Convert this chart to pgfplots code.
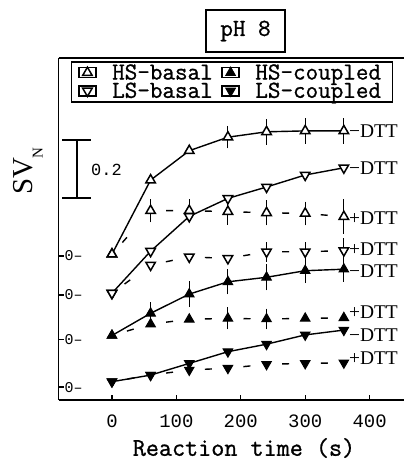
\documentclass[border=0pt]{standalone}
\usepackage{fontspec}
\usepackage{pgfplots}
\usepackage{pgfplotstable}
\pgfplotsset{compat=1.18}
\newfontfamily\serifLS{Liberation Serif}
\newfontfamily\lmono{Liberation Mono}
\newfontfamily\cour[FakeBold=1]{Latin Modern Mono}
\newcommand{\mono}[1]{\fontsize{#1}{#1}\selectfont\cour}
\newcommand{\digs}[1]{\fontsize{#1}{#1}\selectfont\lmono}

% values are SV_N relative to each series' own zero; columns:
% hb/hbd = HS-basal -DTT/+DTT, lb/lbd = LS-basal, hc/hcd = HS-coupled, lc/lcd = LS-coupled; *e = error
\pgfplotstableread{
t   hb    hbe   hbd   hbde  lb    lbd   lbde  hc    hce   hcd   hcde  lc    lcd
0   0.006 0     0.006 0     0.006 0.006 0     0.013 0     0.013 0     0.018 0.018
60  0.253 0     0.151 0.026 0.146 0.100 0     0.087 0.024 0.051 0     0.040 0.040
120 0.351 0     0.151 0.026 0.262 0.127 0     0.151 0.031 0.067 0     0.079 0.057
180 0.396 0.025 0.148 0.032 0.322 0.122 0     0.192 0.029 0.070 0.024 0.118 0.063
240 0.414 0.030 0.144 0.029 0.360 0.144 0.020 0.207 0.031 0.068 0.022 0.143 0.076
300 0.417 0.030 0.142 0.027 0.400 0.144 0.020 0.229 0.029 0.070 0     0.174 0.079
360 0.417 0.030 0.131 0.045 0.424 0.148 0.029 0.234 0.030 0.072 0     0.190 0.081
}\datamain

% +DTT series split into separate segments (dashes restart on each segment)
\pgfplotstableread{
t   hbd   lbd   hcd   lcd
0   0.006 0.006 0.013 0.018
60  0.151 0.100 0.051 0.040
nan nan   nan   nan   nan
60  0.151 0.100 0.051 0.040
120 0.151 0.127 0.067 0.057
nan nan   nan   nan   nan
120 0.151 0.127 0.067 0.057
180 0.148 0.122 0.070 0.063
nan nan   nan   nan   nan
180 0.148 0.122 0.070 0.063
240 0.144 0.144 0.068 0.076
nan nan   nan   nan   nan
240 0.144 0.144 0.068 0.076
300 0.142 0.144 0.070 0.079
nan nan   nan   nan   nan
300 0.142 0.144 0.070 0.079
360 0.131 0.148 0.072 0.081
}\datadash

\pgfplotsset{
  openup/.style={mark=triangle*, mark size=5.5pt, mark options={fill=white, draw=black, line width=1.5bp, solid}},
  opendown/.style={mark=triangle*, mark size=5.5pt, mark options={fill=white, draw=black, line width=1.5bp, rotate=180, solid}},
  fullup/.style={mark=triangle*, mark size=5.5pt, mark options={fill=black, draw=black, line width=1bp, solid}},
  fulldown/.style={mark=triangle*, mark size=5.5pt, mark options={fill=black, draw=black, line width=1bp, rotate=180, solid}},
  solidline/.style={no marks, black, line width=1.4bp, forget plot},
  dashline/.style={no marks, black, line width=1.4bp, forget plot, unbounded coords=jump, dash pattern=on 7bp off 31.6bp, dash phase=23bp},
  ebars/.style={only marks, mark=none, forget plot,
     error bars/y dir=both, error bars/y explicit,
     error bars/error bar style={black, line width=1.1bp, solid},
     error bars/error mark options={black, line width=1.1bp, mark size=3.8pt, solid}},
}
\tikzset{dttlab/.style={anchor=west, inner sep=0pt, xshift=5bp, font=\fontsize{19.5}{19.5}\selectfont\serifLS}}

\begin{document}
\begin{tikzpicture}
\begin{axis}[
  scale only axis, width=345.5bp, height=342bp,
  xmin=-83, xmax=453.4, ymin=0, ymax=1.14,
  axis x line=box, axis y line=left,
  axis line style={-, line width=1.9bp},
  xtick pos=bottom, ytick pos=left,
  tick align=inside, major tick length=5bp,
  tick style={line width=1.3bp, black},
  xtick={0,100,200,300,400},
  xticklabels={0,100,200,300,400},
  xticklabel style={font=\digs{19}, inner sep=0pt, anchor=north, yshift=-15bp},
  ytick={0.480,0.350,0.202,0.043},
  yticklabels={0\textendash,0\textendash,0\textendash,0\textendash},
  yticklabel style={anchor=west, font=\digs{15}, inner sep=0pt, xshift=6bp},
  clip=false,
  legend columns=2,
  legend cell align=left,
  legend image code/.code={\draw[#1] plot coordinates {(0bp,0bp)}; \path (-8.5bp,-5bp) rectangle (8.5bp,5bp);},
  legend style={at={(0.036,0.991)}, anchor=north west, draw=black, line width=1.5bp,
    inner xsep=6.5bp, inner ysep=2.5bp, font=\mono{24.5}, row sep=1.6bp,
    nodes={inner sep=0pt},
    /tikz/every odd column/.append style={column sep=15.5bp},
    /tikz/every even column/.append style={column sep=8.6bp}},
]
% connecting lines
\addplot[solidline] table[x=t, y expr=\thisrow{hb}+0.480] {\datamain};
\addplot[solidline] table[x=t, y expr=\thisrow{lb}+0.350] {\datamain};
\addplot[solidline] table[x=t, y expr=\thisrow{hc}+0.202] {\datamain};
\addplot[solidline] table[x=t, y expr=\thisrow{lc}+0.043] {\datamain};
\addplot[dashline] table[x=t, y expr=\thisrow{hbd}+0.480] {\datadash};
\addplot[dashline] table[x=t, y expr=\thisrow{lbd}+0.350] {\datadash};
\addplot[dashline] table[x=t, y expr=\thisrow{hcd}+0.202] {\datadash};
\addplot[dashline] table[x=t, y expr=\thisrow{lcd}+0.043] {\datadash};
% error bars
\addplot[restrict x to domain=170:400, ebars] table[x=t, y expr=\thisrow{hb}+0.480, y error=hbe] {\datamain};
\addplot[restrict x to domain=50:400, ebars] table[x=t, y expr=\thisrow{hbd}+0.480, y error=hbde] {\datamain};
\addplot[restrict x to domain=230:400, ebars] table[x=t, y expr=\thisrow{lbd}+0.350, y error=lbde] {\datamain};
\addplot[restrict x to domain=50:400, ebars] table[x=t, y expr=\thisrow{hc}+0.202, y error=hce] {\datamain};
\addplot[restrict x to domain=170:250, ebars] table[x=t, y expr=\thisrow{hcd}+0.202, y error=hcde] {\datamain};
% markers
\addplot[only marks, openup] table[x=t, y expr=\thisrow{hb}+0.480] {\datamain};
\addlegendentry{HS\textendash basal}
\addplot[only marks, fullup] table[x=t, y expr=\thisrow{hc}+0.202] {\datamain};
\addlegendentry{HS\textendash coupled\hspace*{5bp}}
\addplot[only marks, opendown] table[x=t, y expr=\thisrow{lb}+0.350] {\datamain};
\addlegendentry{LS\textendash basal}
\addplot[only marks, fulldown] table[x=t, y expr=\thisrow{lc}+0.043] {\datamain};
\addlegendentry{LS\textendash coupled\hspace*{5bp}}
\addplot[only marks, openup, forget plot] table[x=t, y expr=\thisrow{hbd}+0.480] {\datamain};
\addplot[only marks, opendown, forget plot] table[x=t, y expr=\thisrow{lbd}+0.350] {\datamain};
\addplot[only marks, fullup, forget plot] table[x=t, y expr=\thisrow{hcd}+0.202] {\datamain};
\addplot[only marks, fulldown, forget plot] table[x=t, y expr=\thisrow{lcd}+0.043] {\datamain};
% end labels
\node[dttlab] at (axis cs:360,0.897) {−DTT};
\node[dttlab] at (axis cs:360,0.774) {−DTT};
\node[dttlab] at (axis cs:360,0.606) {+DTT};
\node[dttlab] at (axis cs:360,0.502) {+DTT};
\node[dttlab] at (axis cs:360,0.431) {−DTT};
\node[dttlab] at (axis cs:360,0.294) {+DTT};
\node[dttlab] at (axis cs:360,0.217) {−DTT};
\node[dttlab] at (axis cs:360,0.139) {+DTT};
\end{axis}
% scale bar
\draw[line width=1.5bp] (18.5bp,202bp) -- (18.5bp,260bp);
\draw[line width=1.5bp] (3.5bp,260bp) -- (32.5bp,260bp);
\draw[line width=1.5bp] (3.5bp,202bp) -- (32.5bp,202bp);
\node[anchor=west, inner sep=0pt, font=\digs{17}] at (32.5bp,230bp) {0.2};
% y label
\node[rotate=90, anchor=base west, inner sep=0pt] at (-26.5bp,205bp)
  {\fontsize{29}{29}\selectfont\serifLS SV\kern-1bp\raisebox{-10.5bp}{\fontsize{15}{15}\selectfont N}};
% x label
\node[font=\mono{25.5}] at (185.5bp,-48bp) {Reaction time (s)};
% panel title
\node[draw, line width=1.5bp, minimum width=79bp, minimum height=42bp, inner sep=0pt, font=\mono{24.5}] at (187bp,369bp) {pH 8};
\pgfresetboundingbox
\path (-58.5bp,-61bp) rectangle (345.5bp,400bp);
\end{tikzpicture}
\end{document}
